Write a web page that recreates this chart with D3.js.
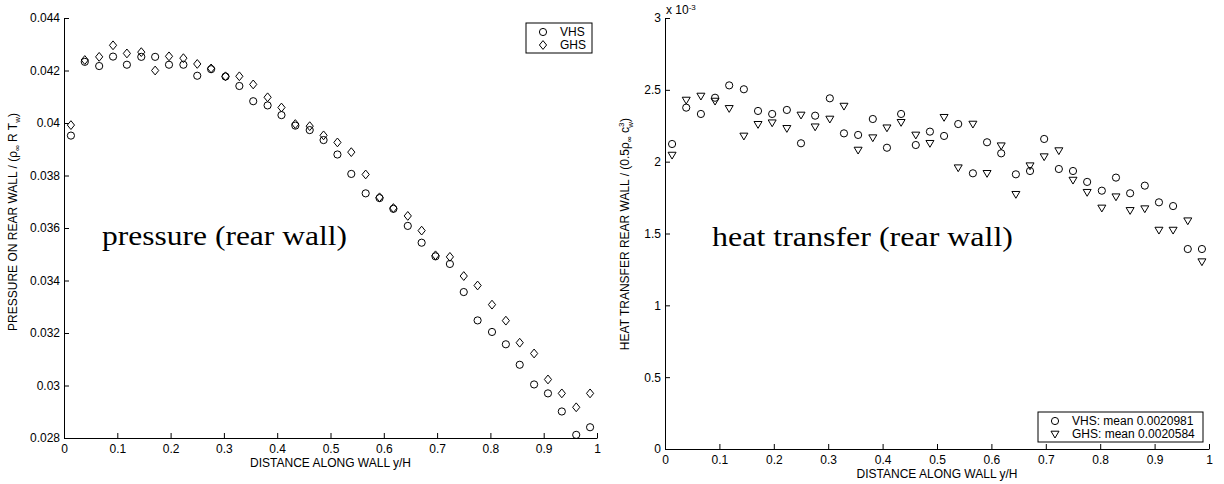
<!DOCTYPE html>
<html>
<head>
<meta charset="UTF-8">
<title>rear wall pressure / heat transfer</title>
<script src="https://d3js.org/d3.v7.min.js"></script>
<style>
  body { margin: 0; background: #fff; }
  svg { display: block; }
  .axis path, .axis line { stroke: #000; }
  .axis text { font-family: "Liberation Sans", Arial, sans-serif; font-size: 12px; fill: #000; }
  .lbl { font-family: "Liberation Sans", Arial, sans-serif; font-size: 12px; fill: #000; }
  .note { font-family: "Liberation Serif", "Times New Roman", serif; font-size: 27px; fill: #000; }
  .mk { fill: none; stroke: #000; stroke-width: 1; }
</style>
</head>
<body>
<svg id="chart" width="1224" height="484"></svg>
<script>
// sample positions along the wall (y/H)
const xPos = [0.013, 0.039, 0.066, 0.092, 0.118, 0.145, 0.171, 0.197, 0.224, 0.25,
              0.276, 0.303, 0.329, 0.355, 0.382, 0.408, 0.434, 0.461, 0.487, 0.513,
              0.539, 0.566, 0.592, 0.618, 0.645, 0.671, 0.697, 0.724, 0.75, 0.776,
              0.803, 0.829, 0.855, 0.882, 0.908, 0.934, 0.961, 0.987];

// pressure on rear wall
const pressureVHS = [0.03952, 0.04233, 0.04217, 0.04253, 0.04222, 0.04252, 0.04252, 0.04222, 0.04222, 0.0418,
                     0.04205, 0.04177, 0.04141, 0.04083, 0.04067, 0.0403, 0.0399, 0.03973, 0.03935, 0.0388,
                     0.03806, 0.03732, 0.03714, 0.03673, 0.03608, 0.03544, 0.03492, 0.03463, 0.03356, 0.03248,
                     0.03204, 0.03157, 0.03079, 0.03004, 0.0297, 0.02901, 0.02812, 0.02841];
const pressureGHS = [0.03992, 0.0424, 0.04252, 0.04296, 0.04265, 0.0427, 0.042, 0.04254, 0.04247, 0.04225,
                     0.04208, 0.04178, 0.04178, 0.04147, 0.04098, 0.04059, 0.03996, 0.03988, 0.03953, 0.03926,
                     0.03889, 0.03804, 0.03717, 0.03676, 0.03646, 0.0359, 0.03496, 0.0349, 0.03417, 0.03381,
                     0.03308, 0.03247, 0.03163, 0.03122, 0.03023, 0.0297, 0.02917, 0.0297];

// heat transfer on rear wall, in units of 1e-3
const heatVHS = [2.123, 2.376, 2.332, 2.445, 2.531, 2.504, 2.353, 2.332, 2.36, 2.128,
                 2.32, 2.441, 2.197, 2.186, 2.297, 2.097, 2.332, 2.116, 2.209, 2.179,
                 2.262, 1.919, 2.135, 2.058, 1.912, 1.935, 2.158, 1.949, 1.935, 1.859,
                 1.798, 1.889, 1.78, 1.833, 1.717, 1.691, 1.392, 1.392];
const heatGHS = [2.046, 2.429, 2.457, 2.422, 2.371, 2.179, 2.26, 2.271, 2.232, 2.325,
                 2.243, 2.297, 2.387, 2.081, 2.167, 2.236, 2.274, 2.186, 2.128, 2.309,
                 1.958, 2.262, 1.919, 2.111, 1.773, 1.972, 2.035, 2.077, 1.872, 1.787,
                 1.678, 1.756, 1.661, 1.673, 1.524, 1.524, 1.589, 1.304];

const xTicks = [0, 0.1, 0.2, 0.3, 0.4, 0.5, 0.6, 0.7, 0.8, 0.9, 1];
const pressureTicks = [0.028, 0.03, 0.032, 0.034, 0.036, 0.038, 0.04, 0.042, 0.044];
const heatTicks = [0, 0.5, 1, 1.5, 2, 2.5, 3];
const pressureLegend = ["VHS", "GHS"];
const heatLegend = ["VHS: mean 0.0020981", "GHS: mean 0.0020584"];

const svg = d3.select("#chart");

// marker shapes (matlab-ish o, d, v)
const shapes = {
  circle: "M3.6,0A3.6,3.6 0 1,1 -3.6,0A3.6,3.6 0 1,1 3.6,0Z",
  diamond: "M0,-4.4L3.6,0L0,4.4L-3.6,0Z",
  triDown: "M-4,-2.8L4,-2.8L0,4Z"
};

function drawPanel(p) {
  const x = d3.scaleLinear().domain([0, 1]).range([p.x0, p.x1]);
  const y = d3.scaleLinear().domain(p.yDomain).range([p.y1, p.y0]);
  const g = svg.append("g");

  g.append("g")
    .attr("class", "axis")
    .attr("transform", `translate(0,${p.y1})`)
    .call(d3.axisBottom(x).tickValues(xTicks).tickFormat(d3.format("~g"))
      .tickSize(-5).tickSizeOuter(0).tickPadding(6))
    .attr("font-family", null).attr("font-size", null);

  g.append("g")
    .attr("class", "axis")
    .attr("transform", `translate(${p.x0},0)`)
    .call(d3.axisLeft(y).tickValues(p.yTicks).tickFormat(d3.format("~g"))
      .tickSize(-5).tickSizeOuter(0).tickPadding(4))
    .attr("font-family", null).attr("font-size", null);

  p.series.forEach(s => {
    g.append("g").selectAll("path")
      .data(s.values)
      .join("path")
      .attr("class", "mk")
      .attr("d", shapes[s.shape])
      .attr("transform", (d, i) => `translate(${x(xPos[i])},${y(d)})`);
  });

  // x label
  g.append("text").attr("class", "lbl")
    .attr("x", (p.x0 + p.x1) / 2).attr("y", p.y1 + 29)
    .attr("text-anchor", "middle")
    .text("DISTANCE ALONG WALL y/H");

  // legend
  const L = p.legend;
  g.append("rect")
    .attr("x", L.x).attr("y", L.y).attr("width", L.w).attr("height", L.h)
    .attr("fill", "#fff").attr("stroke", "#000");
  p.series.forEach((s, i) => {
    const cy = L.y + 9 + i * 13;
    g.append("path").attr("class", "mk").attr("d", shapes[s.shape])
      .attr("transform", `translate(${L.x + 17},${cy})`);
    g.append("text").attr("class", "lbl")
      .attr("x", L.x + 34).attr("y", cy + 4)
      .text(s.name);
  });

  // big annotation
  g.append("text").attr("class", "note")
    .attr("x", p.note.x).attr("y", p.note.y)
    .attr("textLength", p.note.len).attr("lengthAdjust", "spacingAndGlyphs")
    .text(p.note.text);

  return g;
}

drawPanel({
  x0: 64, x1: 597, y0: 18, y1: 438,
  yDomain: [0.028, 0.044], yTicks: pressureTicks,
  series: [
    { name: pressureLegend[0], values: pressureVHS, shape: "circle" },
    { name: pressureLegend[1], values: pressureGHS, shape: "diamond" }
  ],
  legend: { x: 526, y: 23, w: 66, h: 30 },
  note: { x: 102, y: 245, len: 245, text: "pressure (rear wall)" }
});

drawPanel({
  x0: 665, x1: 1209, y0: 18, y1: 449,
  yDomain: [0, 3], yTicks: heatTicks,
  series: [
    { name: heatLegend[0], values: heatVHS, shape: "circle" },
    { name: heatLegend[1], values: heatGHS, shape: "triDown" }
  ],
  legend: { x: 1038, y: 412, w: 165, h: 30 },
  note: { x: 712, y: 246, len: 301, text: "heat transfer (rear wall)" }
});

// rotated y labels with sub/superscripts
const yl1 = svg.append("text").attr("class", "lbl")
  .attr("transform", "translate(17,222) rotate(-90)")
  .attr("text-anchor", "middle");
yl1.append("tspan").text("PRESSURE ON REAR WALL / (ρ");
yl1.append("tspan").attr("dy", 3).attr("font-size", 8).text("∞");
yl1.append("tspan").attr("dy", -3).text(" R T");
yl1.append("tspan").attr("dy", 3).attr("font-size", 8).text("w");
yl1.append("tspan").attr("dy", -3).text(")");

const yl2 = svg.append("text").attr("class", "lbl")
  .attr("transform", "translate(629,234) rotate(-90)")
  .attr("text-anchor", "middle");
yl2.append("tspan").text("HEAT TRANSFER REAR WALL / (0.5ρ");
yl2.append("tspan").attr("dy", 3).attr("font-size", 8).text("∞");
yl2.append("tspan").attr("dy", -3).text(" c");
yl2.append("tspan").attr("dy", -5).attr("font-size", 8).text("3");
yl2.append("tspan").attr("dx", -5).attr("dy", 9).attr("font-size", 8).text("w");
yl2.append("tspan").attr("dy", -4).text(")");

// exponent label of the right axis
const ex = svg.append("text").attr("class", "lbl").attr("font-size", 11)
  .attr("x", 666).attr("y", 14);
ex.append("tspan").text("x 10");
ex.append("tspan").attr("dy", -4).attr("font-size", 8).text("-3");
</script>
</body>
</html>
